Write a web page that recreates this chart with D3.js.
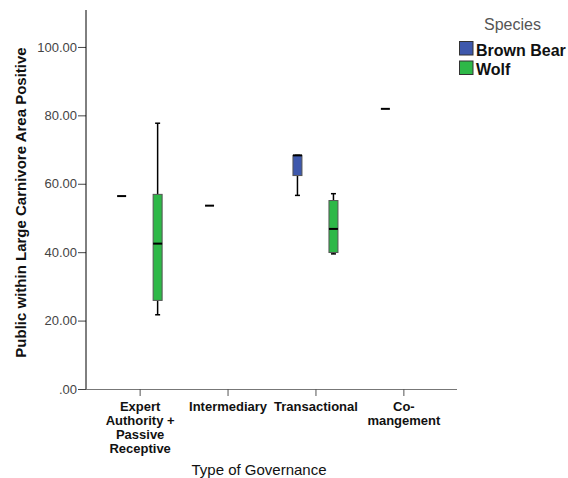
<!DOCTYPE html>
<html>
<head>
<meta charset="utf-8">
<script src="https://cdn.jsdelivr.net/npm/d3@7"></script>
<style>
  body { margin: 0; background: #fff; }
  svg { font-family: Arial, "Liberation Sans", sans-serif; }
</style>
</head>
<body>
<svg id="chart" width="568" height="478"></svg>
<script>
const categories = ["Expert Authority + Passive Receptive", "Intermediary", "Transactional", "Co-mangement"];
const tickLines = [["Expert", "Authority +", "Passive", "Receptive"], ["Intermediary"], ["Transactional"], ["Co-", "mangement"]];
const species = ["Brown Bear", "Wolf"];
const colors = ["#3e58ac", "#2eb848"];

// [min, q1, median, q3, max] per category, null = no cases
const bearStats = [
  [56.4, 56.4, 56.4, 56.4, 56.4],
  [53.6, 53.6, 53.6, 53.6, 53.6],
  [56.6, 62.4, 68.3, 68.3, 68.3],
  [81.9, 81.9, 81.9, 81.9, 81.9]
];
const wolfStats = [
  [21.7, 25.9, 42.5, 56.9, 77.7],
  null,
  [39.5, 39.9, 46.8, 55.1, 57.1],
  null
];
const yTicks = [0, 20, 40, 60, 80, 100];

const SIZE = { left: 86, right: 457, top: 10, bottom: 389 };
const svg = d3.select("#chart");

const x = d3.scalePoint()
  .domain(categories)
  .range([SIZE.left, SIZE.right])
  .padding(0.61);

const y = d3.scaleLinear()
  .domain([0, 110.8])
  .range([SIZE.bottom, SIZE.top]);

const offset = d3.scalePoint().domain(species).range([-18, 18]);

// y axis
const yAxis = svg.append("g")
  .attr("transform", `translate(${SIZE.left},0)`)
  .call(d3.axisLeft(y).tickValues(yTicks).tickSize(8).tickPadding(1)
    .tickFormat(d => d === 0 ? ".00" : d3.format(".2f")(d)));
yAxis.select(".domain").remove();
yAxis.selectAll(".tick line").attr("stroke", "#444");
yAxis.selectAll(".tick text").attr("font-size", 13).attr("fill", "#444");
svg.append("line")
  .attr("x1", SIZE.left).attr("x2", SIZE.left)
  .attr("y1", SIZE.top).attr("y2", SIZE.bottom)
  .attr("stroke", "#000");

// x axis
const xAxis = svg.append("g")
  .attr("transform", `translate(0,${SIZE.bottom})`)
  .call(d3.axisBottom(x).tickSize(7).tickFormat(""));
xAxis.select(".domain").attr("d", `M${SIZE.left},0.5H${SIZE.right}`).attr("stroke", "#777");
xAxis.selectAll(".tick line").attr("stroke", "#555");
xAxis.selectAll(".tick").each(function(d, i) {
  const t = d3.select(this).append("text")
    .attr("fill", "#111")
    .attr("font-size", 13)
    .attr("font-weight", "bold")
    .attr("text-anchor", "middle");
  tickLines[i].forEach((s, j) => {
    t.append("tspan").attr("x", 0).attr("y", 22 + j * 14).text(s);
  });
});

// boxes
const boxW = 9;
function drawBox(stats, sp, color) {
  stats.forEach((s, i) => {
    if (!s) return;
    const cx = x(categories[i]) + offset(sp);
    const [mn, q1, md, q3, mx] = s;
    const g = svg.append("g");
    if (q3 - q1 < 0.01) {
      g.append("line")
        .attr("x1", cx - boxW / 2).attr("x2", cx + boxW / 2)
        .attr("y1", y(md)).attr("y2", y(md))
        .attr("stroke", "#000").attr("stroke-width", 2);
      return;
    }
    g.append("line").attr("x1", cx).attr("x2", cx).attr("y1", y(mx)).attr("y2", y(q3))
      .attr("stroke", "#000").attr("stroke-width", 1.5);
    g.append("line").attr("x1", cx).attr("x2", cx).attr("y1", y(q1)).attr("y2", y(mn))
      .attr("stroke", "#000").attr("stroke-width", 1.5);
    [mn, mx].forEach(v => {
      g.append("line").attr("x1", cx - 2.5).attr("x2", cx + 2.5).attr("y1", y(v)).attr("y2", y(v))
        .attr("stroke", "#000").attr("stroke-width", 1.5);
    });
    g.append("rect")
      .attr("x", cx - boxW / 2).attr("y", y(q3))
      .attr("width", boxW).attr("height", y(q1) - y(q3))
      .attr("fill", color).attr("stroke", "#555").attr("stroke-width", 1);
    g.append("line")
      .attr("x1", cx - boxW / 2).attr("x2", cx + boxW / 2)
      .attr("y1", y(md)).attr("y2", y(md))
      .attr("stroke", "#000").attr("stroke-width", 2);
  });
}
drawBox(bearStats, species[0], colors[0]);
drawBox(wolfStats, species[1], colors[1]);

// axis titles
svg.append("text")
  .attr("transform", `translate(26,${(47 + 358) / 2}) rotate(-90)`)
  .attr("text-anchor", "middle")
  .attr("font-size", 15)
  .attr("font-weight", "bold")
  .attr("fill", "#111")
  .text("Public within Large Carnivore Area Positive");

svg.append("text")
  .attr("x", 259).attr("y", 475)
  .attr("text-anchor", "middle")
  .attr("font-size", 15)
  .attr("fill", "#111")
  .text("Type of Governance");

// legend
const legend = svg.append("g");
legend.append("text")
  .attr("x", 484).attr("y", 30)
  .attr("font-size", 16).attr("fill", "#555")
  .text("Species");
species.forEach((s, i) => {
  legend.append("rect")
    .attr("x", 459.5).attr("y", 41.5 + i * 19.5)
    .attr("width", 13.5).attr("height", 13.5)
    .attr("fill", colors[i]).attr("stroke", "#333");
  legend.append("text")
    .attr("x", 476).attr("y", 55.5 + i * 19.5)
    .attr("font-size", 16).attr("font-weight", "bold").attr("fill", "#111")
    .text(s);
});
</script>
</body>
</html>
